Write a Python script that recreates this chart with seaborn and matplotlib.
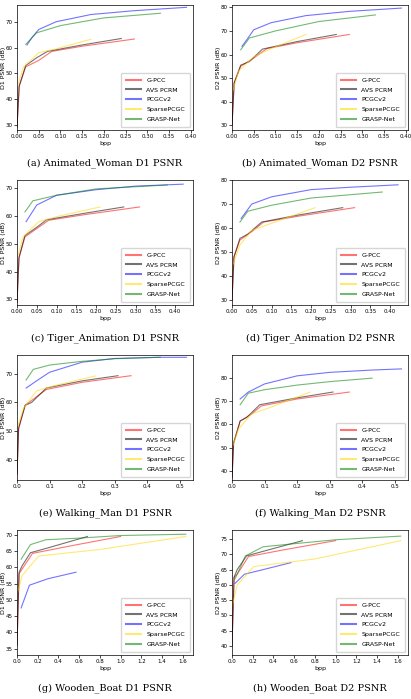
import numpy as np
import pandas as pd
import matplotlib
matplotlib.use("Agg")
import matplotlib.pyplot as plt
import seaborn as sns

methods = ["G-PCC", "AVS PCRM", "PCGCv2", "SparsePCGC", "GRASP-Net"]
colors = ["#ff0000", "#000000", "#0000ff", "#ffd700", "#008000"]

# (bpp, psnr) per method, one list per panel
aw_d1 = [([0, 0.005, 0.02, 0.05, 0.08, 0.15, 0.27], [29, 45, 52.5, 55, 58.5, 60.5, 63.3]),
         ([0, 0.005, 0.02, 0.045, 0.07, 0.15, 0.24], [29, 45, 53, 56, 58.5, 61, 63.5]),
         ([0.023, 0.035, 0.05, 0.09, 0.17, 0.27, 0.39], [61, 64, 67, 70, 72.8, 74.3, 75.6]),
         ([0.003, 0.015, 0.05, 0.09, 0.17], [46, 52.5, 58, 59.5, 63.2]),
         ([0.02, 0.045, 0.1, 0.2, 0.33], [61.2, 65.7, 68.5, 71.5, 73.3])]
aw_d2 = [([0, 0.005, 0.02, 0.05, 0.08, 0.15, 0.27], [30, 48, 55, 58.5, 62.5, 65, 68.5]),
         ([0, 0.005, 0.02, 0.04, 0.07, 0.15, 0.24], [30, 48, 55.5, 57, 62.3, 65.5, 68.5]),
         ([0.023, 0.035, 0.05, 0.09, 0.17, 0.27, 0.39], [63.5, 66.5, 70.5, 73.5, 76.5, 78.3, 79.7]),
         ([0.003, 0.015, 0.05, 0.09, 0.17], [45, 53, 59, 62.5, 68.5]),
         ([0.02, 0.04, 0.1, 0.2, 0.33], [62, 67, 70, 74, 76.8])]
ta_d1 = [([0, 0.005, 0.02, 0.05, 0.08, 0.17, 0.31], [29, 45, 52.5, 55.5, 58.5, 60.5, 63.3]),
         ([0, 0.005, 0.02, 0.05, 0.075, 0.17, 0.27], [29, 45, 53, 56, 58.7, 61, 63.3]),
         ([0.023, 0.05, 0.1, 0.2, 0.3, 0.42], [58, 64, 67.5, 69.5, 70.8, 71.5]),
         ([0.003, 0.015, 0.055, 0.1, 0.21], [46, 52.5, 58, 59.8, 63.3]),
         ([0.02, 0.04, 0.1, 0.2, 0.38], [61.5, 65.5, 67.5, 69.8, 71.2])]
ta_d2 = [([0, 0.005, 0.02, 0.05, 0.08, 0.17, 0.31], [30, 48, 55, 58.5, 62.5, 65, 68.5]),
         ([0, 0.005, 0.02, 0.04, 0.075, 0.17, 0.28], [30, 48, 55.7, 57.5, 62.5, 65.5, 68.5]),
         ([0.023, 0.05, 0.1, 0.2, 0.3, 0.42], [64, 70, 73, 76, 77, 78]),
         ([0.003, 0.02, 0.05, 0.1, 0.21], [45, 53, 59, 62, 68.5]),
         ([0.02, 0.04, 0.1, 0.2, 0.38], [62.5, 67, 69.5, 72.5, 75])]
wm_d1 = [([0, 0.005, 0.025, 0.06, 0.09, 0.2, 0.35], [35, 51, 59, 62, 64.5, 67, 69.3]),
         ([0, 0.005, 0.025, 0.045, 0.09, 0.2, 0.31], [35, 51, 59, 60, 65, 67.5, 69.3]),
         ([0.028, 0.06, 0.1, 0.2, 0.3, 0.43, 0.52], [65, 67.5, 70.5, 74, 75.3, 75.7, 75.7]),
         ([0.003, 0.02, 0.06, 0.12, 0.24], [52, 58, 64, 66, 69.2]),
         ([0.028, 0.05, 0.1, 0.2, 0.3, 0.44], [67.8, 71.5, 73, 74.3, 75.2, 75.7])]
wm_d2 = [([0, 0.005, 0.025, 0.06, 0.09, 0.2, 0.36], [37, 52, 61.5, 64.5, 68, 71, 74]),
         ([0, 0.005, 0.025, 0.045, 0.085, 0.2, 0.31], [37, 52, 61.5, 63, 68.5, 71.5, 74]),
         ([0.025, 0.05, 0.1, 0.2, 0.3, 0.43, 0.52], [71, 74, 77.5, 81, 82.5, 83.5, 84]),
         ([0.003, 0.02, 0.06, 0.12, 0.24], [51, 58, 64.5, 67.5, 74]),
         ([0.025, 0.05, 0.1, 0.2, 0.3, 0.43], [68.5, 73.5, 75, 77, 78.5, 80])]
wb_d1 = [([0, 0.02, 0.05, 0.15, 0.5, 1.0], [36, 58, 59.5, 64.3, 66.5, 69.5]),
         ([0, 0.02, 0.05, 0.13, 0.3, 0.68], [36, 58.5, 60.5, 64.5, 66, 69.5]),
         ([0.04, 0.12, 0.3, 0.57], [47.5, 54.5, 56.5, 58.5]),
         ([0.003, 0.05, 0.21, 0.8, 1.63], [52, 57.5, 63.5, 65.5, 69.5]),
         ([0.04, 0.13, 0.28, 0.6, 1.0, 1.63], [62.5, 67, 68.5, 69, 69.8, 70.2])]
wb_d2 = [([0, 0.02, 0.05, 0.16, 0.5, 1.0], [40, 62.5, 63.5, 69.3, 71.5, 74.5]),
         ([0, 0.02, 0.05, 0.14, 0.3, 0.68], [40, 62.5, 65, 69.5, 71, 74.5]),
         ([0.03, 0.12, 0.3, 0.57], [60.5, 63.5, 65, 67.3]),
         ([0.003, 0.05, 0.21, 0.8, 1.63], [53, 60, 66, 68.5, 74.5]),
         ([0.03, 0.13, 0.3, 0.6, 1.0, 1.63], [62, 69.5, 72.5, 73.5, 74.8, 76])]

panels = [aw_d1, aw_d2, ta_d1, ta_d2, wm_d1, wm_d2, wb_d1, wb_d2]
captions = ["(a) Animated_Woman D1 PSNR", "(b) Animated_Woman D2 PSNR",
            "(c) Tiger_Animation D1 PSNR", "(d) Tiger_Animation D2 PSNR",
            "(e) Walking_Man D1 PSNR", "(f) Walking_Man D2 PSNR",
            "(g) Wooden_Boat D1 PSNR", "(h) Wooden_Boat D2 PSNR"]
xlims = [(0, 0.405), (0, 0.405), (0, 0.445), (0, 0.445), (0, 0.54), (0, 0.54), (0, 1.7), (0, 1.7)]
ylims = [(28, 76.5), (28, 81), (28, 73), (28, 80), (33, 76.5), (36, 90), (33, 71.5), (37, 78)]
xticks = [np.arange(0, 0.41, 0.05)] * 4 + [np.arange(0, 0.51, 0.1)] * 2 + [np.arange(0, 1.61, 0.2)] * 2
yticks = [[30, 40, 50, 60, 70], [30, 40, 50, 60, 70, 80], [30, 40, 50, 60, 70], [30, 40, 50, 60, 70, 80],
          [40, 50, 60, 70], [40, 50, 60, 70, 80], np.arange(35, 71, 5), np.arange(40, 76, 5)]

fig = plt.figure(figsize=(4.11, 6.99), dpi=100)
W, H = 411, 699
lefts = [17, 232]
for i, data in enumerate(panels):
    r, c = divmod(i, 2)
    top = 5 + r * 175
    ax = fig.add_axes([lefts[c] / W, 1 - (top + 125) / H, 176 / W, 125 / H])
    for m, col, (x, y) in zip(methods, colors, data):
        df = pd.DataFrame({"bpp": x, "psnr": y})
        sns.lineplot(data=df, x="bpp", y="psnr", ax=ax, color=col, alpha=0.55,
                     lw=0.8, sort=False, label=m)
    ax.set_xlim(*xlims[i])
    ax.set_ylim(*ylims[i])
    ax.set_xticks(xticks[i])
    ax.set_yticks(yticks[i])
    fmt = "{:.2f}" if i < 4 else "{:.1f}"
    ax.set_xticklabels([fmt.format(v) for v in xticks[i]])
    ax.tick_params(labelsize=4, length=2, width=0.5, pad=1)
    for s in ax.spines.values():
        s.set_linewidth(0.5)
    ax.set_xlabel("bpp", fontsize=4.5, labelpad=1)
    ax.set_ylabel(("D1" if c == 0 else "D2") + " PSNR (dB)", fontsize=4.5, labelpad=1)
    ax.yaxis.set_label_coords(-11 / 176, 0.5)
    leg = ax.legend(loc="lower right", fontsize=4.5, handlelength=2.5, borderpad=0.8,
                    labelspacing=0.7, frameon=True)
    for h in leg.get_lines():
        h.set_linewidth(1.5)
    fig.text((lefts[c] + 88) / W, 1 - (top + 158) / H, captions[i], ha="center", va="center",
             fontsize=7, family="DejaVu Serif")

fig.savefig("out.png", dpi=100)
